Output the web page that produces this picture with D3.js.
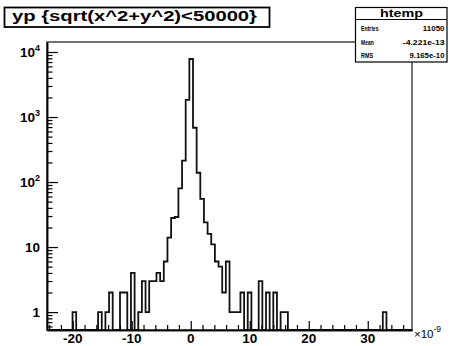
<!DOCTYPE html>
<html>
<head>
<meta charset="utf-8">
<script src="https://cdn.jsdelivr.net/npm/d3@7"></script>
<style>
  body { margin: 0; background: #fff; }
  svg { display: block; }
  text { font-family: "Liberation Sans", Arial, Helvetica, sans-serif; fill: #000; }
</style>
</head>
<body>
<svg id="chart"></svg>
<script>
// histogram htemp, 100 bins
const xLimits = [-24.36, 37.5];
const yLimits = [0.53, 14250];
const binCounts = [
  0, 0, 0, 0, 0, 0, 0, 1, 0, 0,
  0, 0, 0, 0, 1, 0, 1, 2, 0, 0,
  2, 2, 0, 4, 0, 1, 3, 1, 3, 3,
  4, 3, 6, 14, 28, 29, 80, 213, 1830, 7800,
  684, 139, 55, 24, 16, 11, 6, 5, 2, 6,
  1, 1, 1, 2, 0, 2, 0, 0, 3, 0,
  2, 0, 2, 0, 1, 1, 0, 0, 0, 0,
  0, 0, 0, 0, 0, 0, 0, 0, 0, 0,
  0, 0, 0, 0, 0, 0, 0, 0, 0, 0,
  0, 0, 1, 0, 0, 0, 0, 0, 0, 0
];

const xMajorTicks = [-20, -10, 0, 10, 20, 30];
const yMajorTicks = [1, 10, 100, 1000, 10000];
const yTickLabels = [['1', ''], ['10', ''], ['10', '2'], ['10', '3'], ['10', '4']];

const titleText = 'yp {sqrt(x^2+y^2)<50000}';
const histName = 'htemp';
const statLabels = ['Entries', 'Mean', 'RMS'];
const statValues = ['11050', '-4.221e-13', '9.165e-10'];

const width = 453, height = 346;
const frame = { left: 47, right: 412, top: 42, bottom: 330 };

const svg = d3.select('#chart').attr('width', width).attr('height', height);

const x = d3.scaleLinear().domain(xLimits).range([frame.left, frame.right]);
const y = d3.scaleLog().domain(yLimits).range([frame.bottom, frame.top]);

svg.append('clipPath').attr('id', 'frame-clip')
  .append('rect')
  .attr('x', frame.left).attr('y', frame.top)
  .attr('width', frame.right - frame.left).attr('height', frame.bottom - frame.top);

// frame
svg.append('rect')
  .attr('x', frame.left).attr('y', frame.top)
  .attr('width', frame.right - frame.left).attr('height', frame.bottom - frame.top)
  .attr('fill', 'none').attr('stroke', '#444').attr('stroke-width', 1.5);

// histogram outline
const binWidth = (xLimits[1] - xLimits[0]) / binCounts.length;
const steps = binCounts.map((c, i) => ({ edge: xLimits[0] + i * binWidth, count: c }));
steps.push({ edge: xLimits[1], count: binCounts[binCounts.length - 1] });
const yOf = c => c > 0 ? y(c) : frame.bottom;

svg.append('path')
  .datum(steps)
  .attr('clip-path', 'url(#frame-clip)')
  .attr('fill', 'none')
  .attr('stroke', '#111')
  .attr('stroke-width', 1.8)
  .attr('d', d3.line().x(d => x(d.edge)).y(d => yOf(d.count)).curve(d3.curveStepAfter));

// x axis
const xMinor = d3.range(-24, 38, 2).filter(v => v % 10 !== 0);
const gx = svg.append('g').attr('transform', `translate(0,${frame.bottom})`);
gx.call(d3.axisBottom(x).tickValues(xMinor).tickSizeInner(-5).tickSizeOuter(0).tickFormat(''));
gx.append('g').call(d3.axisBottom(x).tickValues(xMajorTicks).tickSizeInner(-9).tickSizeOuter(0).tickFormat(''));
gx.selectAll('path.domain').attr('stroke', '#000').attr('stroke-width', 1.5);
gx.selectAll('.tick line').attr('stroke', '#000').attr('stroke-width', 1.2);

svg.append('g').selectAll('text')
  .data(xMajorTicks)
  .enter()
  .append('text')
  .attr('x', d => x(d))
  .attr('y', 343)
  .attr('text-anchor', 'middle')
  .attr('font-size', 13.5)
  .attr('font-weight', 'bold')
  .text(d => d);

const expo = svg.append('text').attr('x', 414).attr('y', 337.5).attr('font-size', 11.5).attr('fill', '#222');
expo.append('tspan').text('×10');
expo.append('tspan').attr('dy', -6).attr('font-size', 8.5).text('-9');

// y axis
const yMinor = [];
[0.1, 1, 10, 100, 1000].forEach(dec => {
  for (let k = 2; k <= 9; k++) {
    const v = dec * k;
    if (v >= yLimits[0] && v <= yLimits[1]) yMinor.push(v);
  }
});
const gy = svg.append('g').attr('transform', `translate(${frame.left},0)`);
gy.call(d3.axisLeft(y).tickValues(yMinor).tickSizeInner(-5.5).tickSizeOuter(0).tickFormat(''));
gy.append('g').call(d3.axisLeft(y).tickValues(yMajorTicks).tickSizeInner(-11).tickSizeOuter(0).tickFormat(''));
gy.selectAll('path.domain').attr('stroke', '#000').attr('stroke-width', 1.5);
gy.selectAll('.tick line').attr('stroke', '#000').attr('stroke-width', 1.2);

yMajorTicks.forEach((v, i) => {
  const t = svg.append('text')
    .attr('x', 40)
    .attr('y', y(v) + 5)
    .attr('text-anchor', 'end')
    .attr('font-size', 13.5)
    .attr('font-weight', 'bold');
  t.append('tspan').text(yTickLabels[i][0]);
  if (yTickLabels[i][1]) {
    t.append('tspan').attr('dy', -6).attr('font-size', 9).text(yTickLabels[i][1]);
  }
});

// title box
svg.append('rect')
  .attr('x', 4.5).attr('y', 7.5).attr('width', 265).attr('height', 19.5)
  .attr('fill', '#fff').attr('stroke', '#000').attr('stroke-width', 1.8);
svg.append('text')
  .attr('x', 12).attr('y', 20.5)
  .attr('font-size', 14.5)
  .attr('font-weight', 'bold')
  .attr('textLength', 245)
  .attr('lengthAdjust', 'spacingAndGlyphs')
  .text(titleText);

// stats box
const stats = svg.append('g');
stats.append('rect')
  .attr('x', 355.5).attr('y', 7.5).attr('width', 91.5).attr('height', 54.5)
  .attr('fill', '#fff').attr('stroke', '#000').attr('stroke-width', 1.2);
stats.append('line')
  .attr('x1', 355.5).attr('x2', 447).attr('y1', 19.5).attr('y2', 19.5)
  .attr('stroke', '#000').attr('stroke-width', 1);
stats.append('text')
  .attr('x', 401.5).attr('y', 16.8)
  .attr('text-anchor', 'middle')
  .attr('font-size', 10.5)
  .attr('font-weight', 'bold')
  .attr('textLength', 43)
  .attr('lengthAdjust', 'spacingAndGlyphs')
  .text(histName);

const labelWidths = [17.6, 12.7, 12];
const valueWidths = [21.7, 41.7, 35];
const rowBase = [31, 44.8, 57.8];
statLabels.forEach((lab, i) => {
  stats.append('text')
    .attr('x', 361).attr('y', rowBase[i])
    .attr('font-size', 7.8).attr('font-weight', 'bold')
    .attr('textLength', labelWidths[i]).attr('lengthAdjust', 'spacingAndGlyphs')
    .text(lab);
  stats.append('text')
    .attr('x', 444.5 - valueWidths[i]).attr('y', rowBase[i])
    .attr('font-size', 7.8).attr('font-weight', 'bold')
    .attr('textLength', valueWidths[i]).attr('lengthAdjust', 'spacingAndGlyphs')
    .text(statValues[i]);
});
</script>
</body>
</html>
